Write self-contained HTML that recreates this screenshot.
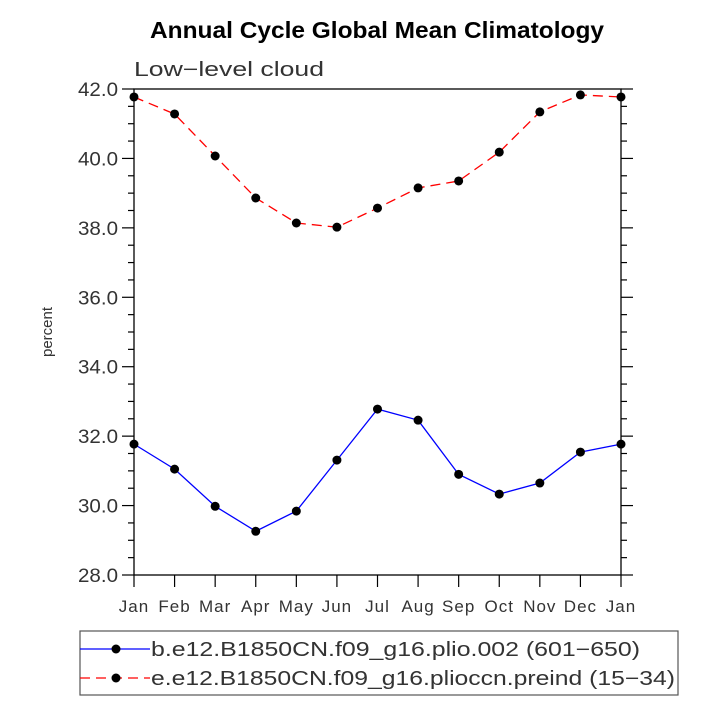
<!DOCTYPE html>
<html><head><meta charset="utf-8"><style>
body{margin:0;background:#fff;}
svg{display:block;font-family:"Liberation Sans",sans-serif;}
</style></head><body>
<svg id="chart" width="715" height="716" viewBox="0 0 715 716">
<text x="150" y="38" textLength="454" lengthAdjust="spacingAndGlyphs" font-size="23" font-weight="bold">Annual Cycle Global Mean Climatology</text>
<text x="134" y="76" textLength="190" lengthAdjust="spacingAndGlyphs" font-size="20" fill="#333">Low−level cloud</text>
<text transform="translate(52,332) rotate(-90)" text-anchor="middle" font-size="15" fill="#333">percent</text>
<g id="axes"></g>
<g id="series"></g>
<rect x="80" y="631" width="598" height="64" fill="none" stroke="#555" stroke-width="1.2"/>
<g>
<line x1="80" y1="649" x2="150" y2="649" stroke="#0000ff" stroke-width="1.3"/>
<circle cx="116" cy="649" r="4.5" fill="#000"/>
<text x="151" y="656" textLength="489" lengthAdjust="spacingAndGlyphs" font-size="20" fill="#333">b.e12.B1850CN.f09_g16.plio.002 (601−650)</text>
</g>
<g>
<line x1="80" y1="678" x2="150" y2="678" stroke="#ff0000" stroke-width="1.3" stroke-dasharray="10,6"/>
<circle cx="116" cy="678" r="4.5" fill="#000"/>
<text x="151" y="685" textLength="524" lengthAdjust="spacingAndGlyphs" font-size="20" fill="#333">e.e12.B1850CN.f09_g16.plioccn.preind (15−34)</text>
</g>
</svg>
<script>
const months=["Jan","Feb","Mar","Apr","May","Jun","Jul","Aug","Sep","Oct","Nov","Dec","Jan"];
const blueValues=[31.77,31.05,29.98,29.26,29.84,31.31,32.78,32.46,30.90,30.33,30.65,31.54,31.77];
const redValues=[41.77,41.28,40.07,38.86,38.14,38.02,38.57,39.15,39.35,40.18,41.34,41.83,41.77];
const yTicks=[28,30,32,34,36,38,40,42];
const NS="http://www.w3.org/2000/svg";
const L=134,R=621,T=89,B=575,ymin=28,ymax=42;
const xs=i=>L+(R-L)*i/(months.length-1);
const ys=v=>B-(v-ymin)/(ymax-ymin)*(B-T);
function mk(tag,attrs,parent){const e=document.createElementNS(NS,tag);for(const k in attrs)e.setAttribute(k,attrs[k]);parent.appendChild(e);return e;}
const ax=document.getElementById('axes');
const frame=mk('rect',{x:L,y:T,width:R-L,height:B-T,fill:'none',stroke:'#000','stroke-width':1.3},ax);


for(let v=ymin;v<=ymax+1e-9;v+=0.5){
 const major=Math.abs(v/2-Math.round(v/2))<1e-9;const len=major?12:6;const y=ys(v);
 mk('line',{x1:L-len,y1:y,x2:L,y2:y,stroke:'#000','stroke-width':1.2},ax);
 mk('line',{x1:R,y1:y,x2:R+len,y2:y,stroke:'#000','stroke-width':1.2},ax);
}
yTicks.forEach(v=>{const t=mk('text',{x:L-16,y:ys(v)+7,'text-anchor':'end','font-size':19,textLength:40,lengthAdjust:'spacingAndGlyphs',fill:'#333'},ax);t.textContent=v.toFixed(1);

});
months.forEach((m,i)=>{const x=xs(i);mk('line',{x1:x,y1:B,x2:x,y2:B+12,stroke:'#000','stroke-width':1.2},ax);
const t=mk('text',{x:x,y:B+37,'text-anchor':'middle','font-size':17,'letter-spacing':1,fill:'#333'},ax);t.textContent=m;

});
const sg=document.getElementById('series');
function drawSeries(vals,color,dash,name){
 const p=mk('polyline',{points:vals.map((v,i)=>xs(i)+','+ys(v)).join(' '),fill:'none',stroke:color,'stroke-width':1.3},sg);
 if(dash)p.setAttribute('stroke-dasharray',dash);
 
 
 vals.forEach((v,i)=>{const c=mk('circle',{cx:xs(i),cy:ys(v),r:4.5,fill:'#000'},sg);
 
 });
}
drawSeries(redValues,'#ff0000','10,6','red-series');
drawSeries(blueValues,'#0000ff',null,'blue-series');
</script>
</body></html>
